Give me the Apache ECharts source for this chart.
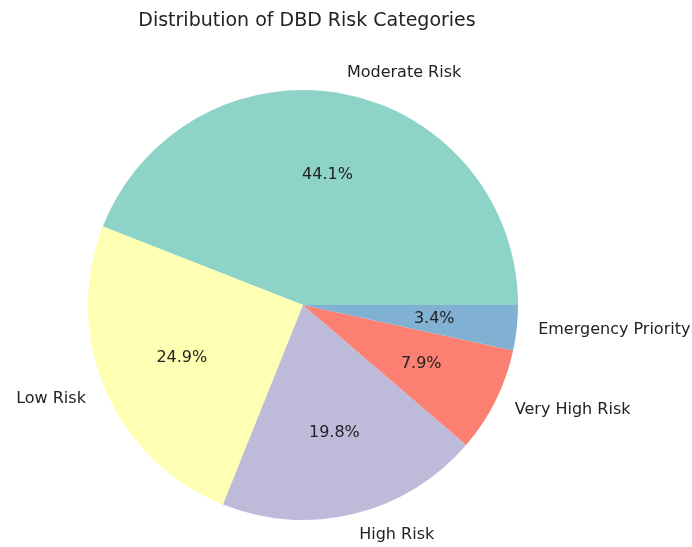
<!DOCTYPE html>
<html>
<head>
<meta charset="utf-8">
<script src="https://cdn.jsdelivr.net/npm/echarts@6/dist/echarts.min.js"></script>
<style>
html,body{margin:0;padding:0;background:#fff;}
#main{width:692px;height:547px;}
</style>
</head>
<body>
<div id="main"></div>
<script>
const categories = ['Moderate Risk', 'Low Risk', 'High Risk', 'Very High Risk', 'Emergency Priority'];
const shares = [44.1, 24.9, 19.8, 7.9, 3.4];
const colors = ['#8dd3c7', '#ffffb3', '#bebada', '#fb8072', '#80b1d3'];

const R = 215;
const center = [303, 305];
const font = 'DejaVu Sans';

const pieData = categories.map((c, i) => ({ name: c, value: shares[i], itemStyle: { color: colors[i] } }));
const labelData = categories.map((c, i) => ({ name: c, value: shares[i] }));

const chart = echarts.init(document.getElementById('main'));
chart.setOption({
  animation: false,
  backgroundColor: '#fff',
  title: {
    text: 'Distribution of DBD Risk Categories',
    left: 302, top: 7, textAlign: 'center',
    textStyle: { fontFamily: font, fontSize: 19, fontWeight: 'normal', color: '#222' }
  },
  series: [
    {
      type: 'pie',
      center: center,
      radius: [0, R],
      startAngle: 0,
      clockwise: false,
      avoidLabelOverlap: false,
      silent: true,
      data: pieData,
      itemStyle: { borderWidth: 0 },
      label: {
        show: true,
        position: 'outside',
        distanceToLabelLine: 0,
        formatter: '{b}',
        fontFamily: font, fontSize: 16, color: '#222'
      },
      labelLine: { show: false, length: R * 0.1, length2: 0 }
    },
    {
      type: 'pie',
      center: center,
      radius: [0, R * 1.2],
      startAngle: 0,
      clockwise: false,
      avoidLabelOverlap: false,
      silent: true,
      data: labelData,
      itemStyle: { color: 'rgba(0,0,0,0)', borderWidth: 0 },
      label: {
        show: true,
        position: 'inside',
        formatter: '{c}%',
        fontFamily: font, fontSize: 16, color: '#222'
      },
      labelLine: { show: false }
    }
  ]
});
</script>
</body>
</html>
